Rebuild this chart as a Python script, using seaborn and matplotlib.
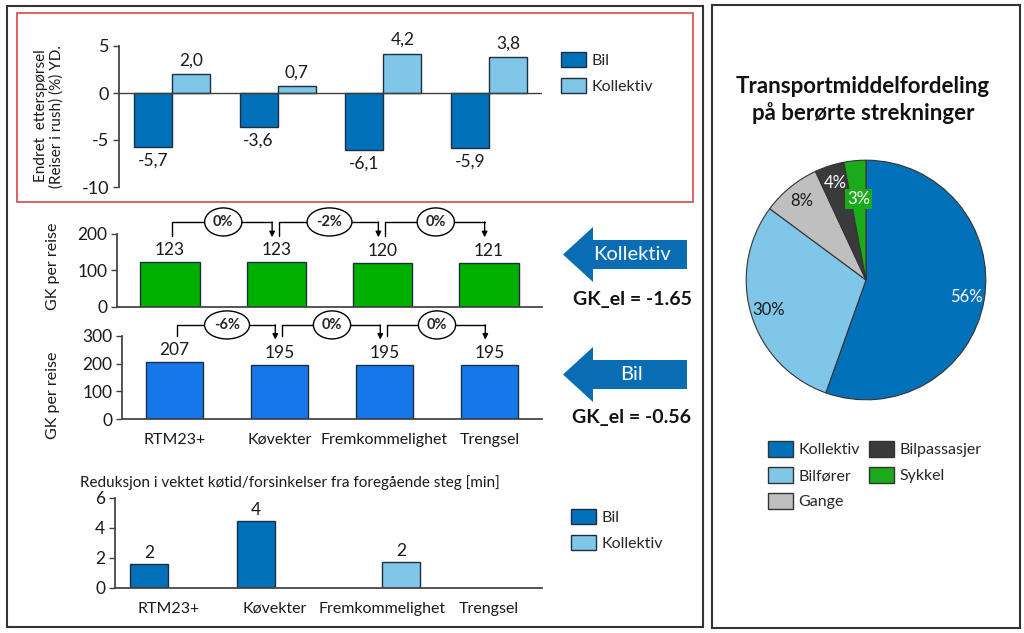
import numpy as np
import pandas as pd
import matplotlib
matplotlib.use("Agg")
import matplotlib.pyplot as plt
from matplotlib.patches import Patch, Rectangle, Polygon
import seaborn as sns

sns.set_theme(style="white")
plt.rcParams["font.family"] = ["Lato", "DejaVu Sans"]
plt.rcParams["axes.unicode_minus"] = False

# ---- data ----
scenarios = ["RTM23+", "Køvekter", "Fremkommelighet", "Trengsel"]
modes_short = ["Bil", "Kollektiv"]
demand_bil = [-5.7, -3.6, -6.1, -5.9]
demand_koll = [2.0, 0.7, 4.2, 3.8]
gk_koll = [123, 123, 120, 121]
gk_bil = [207, 195, 195, 195]
gk_koll_step = ["0%", "-2%", "0%"]
gk_bil_step = ["-6%", "0%", "0%"]
gk_el_koll = -1.65
gk_el_bil = -0.56
delay_bil = [1.6, 4.5, np.nan, np.nan]
delay_koll = [np.nan, np.nan, 1.75, np.nan]
pie_modes = ["Kollektiv", "Bilfører", "Gange", "Bilpassasjer", "Sykkel"]
pie_share = [56, 30, 8, 4, 3]

# ---- colours ----
C_BIL = "#0070b8"
C_KOLL = "#80c6e8"
C_GREEN = "#00b000"
C_BLUE = "#1677ea"
C_EDGE = "#1c2e40"
C_ARROW = "#0a6db3"
pie_colors = [C_BIL, C_KOLL, "#bfbfbf", "#3a3a3a", "#1aaa1a"]

W, H = 1024, 633
fig = plt.figure(figsize=(W / 100, H / 100), dpi=100)


def px_rect(l, t, r, b):
    return [l / W, 1 - b / H, (r - l) / W, (b - t) / H]


def fx(x):
    return x / W


def fy(y):
    return 1 - y / H


def style_axis(ax, fs=12.5, xfs=11.5):
    ax.set_xlabel("")
    ax.set_ylabel("")
    for s in ["top", "right"]:
        ax.spines[s].set_visible(False)
    ax.spines["left"].set_color("#404040")
    ax.spines["bottom"].set_color("#404040")
    ax.tick_params(axis="y", left=True, length=4, width=1, color="#404040",
                   labelsize=fs, pad=3, labelcolor="#1a1a1a")
    ax.tick_params(axis="x", bottom=False, length=0, labelsize=xfs, pad=10,
                   labelcolor="#1a1a1a")


# ---- frames ----
fig.add_artist(Rectangle((fx(7), fy(627)), (703 - 7) / W, (627 - 6) / H,
                         transform=fig.transFigure, fill=False, ec="#333333", lw=1.5))
fig.add_artist(Rectangle((fx(712), fy(628)), (1020 - 712) / W, (628 - 5) / H,
                         transform=fig.transFigure, fill=False, ec="#333333", lw=1.5))
fig.add_artist(Rectangle((fx(17), fy(202)), (693 - 17) / W, (202 - 13) / H,
                         transform=fig.transFigure, fill=False, ec="#d9575c", lw=1.3))

legend_kw = dict(loc="upper left", frameon=False, fontsize=11.5, handlelength=1.55,
                 handleheight=1.1, handletextpad=0.35, labelspacing=0.62,
                 borderpad=0, borderaxespad=0)

# ---- top: demand change ----
df_dem = pd.DataFrame({
    "scenario": scenarios * 2,
    "mode": ["Bil"] * 4 + ["Kollektiv"] * 4,
    "value": demand_bil + demand_koll,
})
ax1 = fig.add_axes(px_rect(119, 46, 542, 187))
sns.barplot(data=df_dem, x="scenario", y="value", hue="mode", order=scenarios,
            hue_order=modes_short, palette=[C_BIL, C_KOLL], saturation=1, dodge=True,
            width=0.72, edgecolor=C_EDGE, linewidth=1, legend=False, ax=ax1)
for cont in ax1.containers:
    ax1.bar_label(cont, labels=[f"{b.get_height():.1f}".replace(".", ",") for b in cont],
                  padding=4, fontsize=12.5, color="#1a1a1a")
style_axis(ax1, fs=13)
ax1.spines["bottom"].set_visible(False)
ax1.axhline(0, color="#404040", lw=1)
ax1.set_xticks([])
ax1.set_ylim(-10, 5)
ax1.set_yticks([-10, -5, 0, 5])
ax1.set_xlim(-0.5, 3.5)
fig.text(fx(49), fy(116), "Endret  etterspørsel\n(Reiser i rush) (%) YD.", rotation=90,
         ha="center", va="center", fontsize=11, linespacing=1.15, color="#1a1a1a")
fig.legend(handles=[Patch(fc=C_BIL, ec=C_EDGE, label="Bil"),
                    Patch(fc=C_KOLL, ec=C_EDGE, label="Kollektiv")],
           bbox_to_anchor=(fx(561), fy(52)), **legend_kw)


# ---- middle: GK per reise ----
def step_brackets(ax, labels, y_from, y_top, y_to):
    for i, lab in enumerate(labels):
        x0 = i + 0.02
        x1 = i + 1 - 0.04
        ax.plot([x0, x0, x1], [y_from, y_top, y_top], color="black", lw=1, clip_on=False)
        ax.annotate("", xy=(x1, y_to), xytext=(x1, y_top),
                    arrowprops=dict(arrowstyle="-|>", color="black", lw=1,
                                    mutation_scale=8, shrinkA=0, shrinkB=0),
                    annotation_clip=False)
        ax.text(i + 0.5, y_top, lab, ha="center", va="center", fontsize=10.5,
                fontweight="bold", zorder=5,
                bbox=dict(boxstyle="ellipse,pad=0.2", fc="white", ec="black", lw=1))


ax2 = fig.add_axes(px_rect(117, 234, 542, 307))
sns.barplot(x=scenarios, y=gk_koll, color=C_GREEN, saturation=1, width=0.56,
            edgecolor=C_EDGE, linewidth=1, ax=ax2)
ax2.bar_label(ax2.containers[0], padding=3, fontsize=12.5, color="#1a1a1a")
style_axis(ax2)
ax2.set_xticks([])
ax2.set_ylim(0, 200)
ax2.set_yticks([0, 100, 200])
ax2.set_xlim(-0.5, 3.5)
step_brackets(ax2, gk_koll_step, 195, 233, 191)
fig.text(fx(53), fy(266), "GK per reise", rotation=90, ha="center", va="center",
         fontsize=11.5, color="#1a1a1a")

ax3 = fig.add_axes(px_rect(122, 336, 542, 419))
sns.barplot(x=scenarios, y=gk_bil, color=C_BLUE, saturation=1, width=0.55,
            edgecolor=C_EDGE, linewidth=1, ax=ax3)
ax3.bar_label(ax3.containers[0], padding=3, fontsize=12.5, color="#1a1a1a")
style_axis(ax3)
ax3.set_ylim(0, 300)
ax3.set_yticks([0, 100, 200, 300])
ax3.set_xlim(-0.5, 3.5)
step_brackets(ax3, gk_bil_step, 300, 340, 287)
fig.text(fx(53), fy(395), "GK per reise", rotation=90, ha="center", va="center",
         fontsize=11.5, color="#1a1a1a")


def side_arrow(y_mid, text):
    pts = [(563, y_mid), (593, y_mid - 27.5), (593, y_mid - 14.5), (687, y_mid - 14.5),
           (687, y_mid + 14.5), (593, y_mid + 14.5), (593, y_mid + 27.5)]
    fig.add_artist(Polygon([(fx(x), fy(y)) for x, y in pts], closed=True,
                           transform=fig.transFigure, fc=C_ARROW, ec="none"))
    fig.text(fx(632), fy(y_mid), text, ha="center", va="center", fontsize=14.5,
             color="white")


side_arrow(254.5, "Kollektiv")
side_arrow(374.5, "Bil")
fig.text(fx(632), fy(300), f"GK_el = {gk_el_koll:.2f}", ha="center", va="center",
         fontsize=14, fontweight="bold", color="#111111")
fig.text(fx(632), fy(418), f"GK_el = {gk_el_bil:.2f}", ha="center", va="center",
         fontsize=14, fontweight="bold", color="#111111")

# ---- bottom: delay reduction ----
df_delay = pd.DataFrame({
    "scenario": scenarios * 2,
    "mode": ["Bil"] * 4 + ["Kollektiv"] * 4,
    "value": delay_bil + delay_koll,
}).dropna()
ax4 = fig.add_axes(px_rect(115, 498, 542, 588))
sns.barplot(data=df_delay, x="scenario", y="value", hue="mode", order=scenarios,
            hue_order=modes_short, palette=[C_BIL, C_KOLL], saturation=1, dodge=True,
            width=0.72, edgecolor=C_EDGE, linewidth=1, legend=False, ax=ax4)
for cont in ax4.containers:
    ax4.bar_label(cont, labels=[f"{b.get_height():.0f}" for b in cont],
                  padding=2, fontsize=12.5, color="#1a1a1a")
style_axis(ax4)
ax4.set_ylim(0, 6)
ax4.set_yticks([0, 2, 4, 6])
ax4.set_xlim(-0.5, 3.5)
fig.text(fx(80), fy(483), "Reduksjon i vektet køtid/forsinkelser fra foregående steg [min]",
         ha="left", va="center", fontsize=11, color="#1a1a1a")
fig.legend(handles=[Patch(fc=C_BIL, ec=C_EDGE, label="Bil"),
                    Patch(fc=C_KOLL, ec=C_EDGE, label="Kollektiv")],
           bbox_to_anchor=(fx(571), fy(509)), **legend_kw)

# ---- right: pie ----
ax5 = fig.add_axes(px_rect(745, 159, 987, 401))
wedges, _ = ax5.pie(pie_share, colors=pie_colors, startangle=90, counterclock=False,
                    wedgeprops=dict(edgecolor="#333333", linewidth=0.8))
ax5.set_xlim(-1.01, 1.01)
ax5.set_ylim(-1.01, 1.01)
label_colors = ["white", "#1a1a1a", "#1a1a1a", "white", "white"]
label_dist = [0.85, 0.85, 0.85, 0.85, 0.68]
for w, v, c, d, fc in zip(wedges, pie_share, label_colors, label_dist, pie_colors):
    ang = np.deg2rad((w.theta1 + w.theta2) / 2)
    bb = dict(boxstyle="square,pad=0.1", fc=fc, ec="none") if v == pie_share[-1] else None
    ax5.text(d * np.cos(ang), d * np.sin(ang), f"{v}%", ha="center", va="center",
             fontsize=12, color=c, bbox=bb)

fig.text(fx(863), fy(100), "Transportmiddelfordeling\npå berørte strekninger",
         ha="center", va="center", fontsize=16, fontweight="bold", linespacing=1.3,
         color="#111111")
fig.legend(handles=[Patch(fc=c, ec="#333333", label=m) for c, m in zip(pie_colors, pie_modes)],
           loc="upper left", bbox_to_anchor=(fx(768), fy(441)), ncol=2, frameon=False,
           fontsize=11.5, handlelength=1.55, handleheight=1.15, handletextpad=0.35,
           columnspacing=0.6, labelspacing=0.6, borderpad=0, borderaxespad=0)

fig.savefig("out.png", dpi=100)
